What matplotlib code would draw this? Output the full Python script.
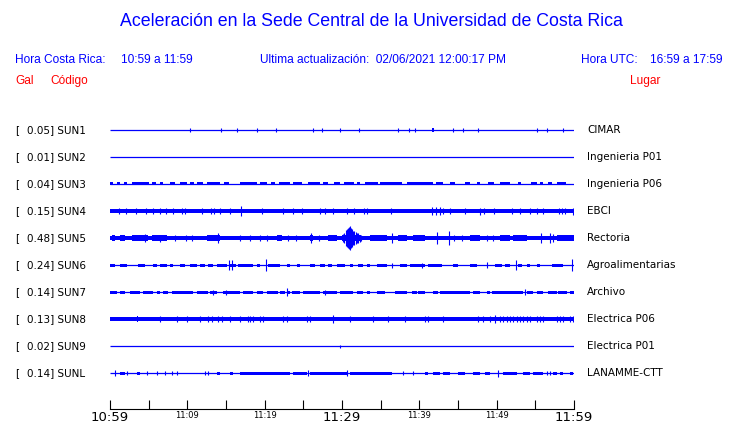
import matplotlib
matplotlib.use("Agg")
import matplotlib.pyplot as plt
import numpy as np

# ======================
# DATOS (minutos desde 10:59, amplitudes en px)
# ======================
codigos = ["SUN1", "SUN2", "SUN3", "SUN4", "SUN5", "SUN6", "SUN7", "SUN8", "SUN9", "SUNL"]
gal = [0.05, 0.01, 0.04, 0.15, 0.48, 0.24, 0.14, 0.13, 0.02, 0.14]
lugares = ["CIMAR", "Ingenieria P01", "Ingenieria P06", "EBCI", "Rectoria",
           "Agroalimentarias", "Archivo", "Electrica P06", "Electrica P01", "LANAMME-CTT"]

tick_labels = ["10:59", "", "11:09", "", "11:19", "", "11:29", "", "11:39", "", "11:49", "", "11:59"]

# ancho base de cada traza
base = [0.5, 0.5, 0.5, 2.2, 2.2, 0.5, 0.5, 2.2, 0.5, 0.5]
# amplitud de los bloques
amp_bloque = [2.0, 1.5, 1.5, 3.0, 3.0, 1.5, 1.5, 3.0, 1.5, 1.5]

bloques = [
    [(41.6, 41.9)],
    [],
    [(0.0, 0.4), (0.9, 1.3), (1.8, 2.2), (2.8, 5.0), (5.4, 6.0), (6.5, 6.9), (7.8, 8.4),
     (9.1, 9.9), (10.3, 10.8), (11.2, 12.0), (12.5, 14.2), (14.7, 15.4), (16.8, 19.0),
     (19.4, 20.3), (20.8, 21.3), (21.8, 23.3), (23.7, 24.8), (25.6, 27.2), (27.5, 28.2),
     (29.0, 29.7), (30.2, 31.5), (31.9, 32.3), (33.0, 33.6), (33.6, 34.7), (34.9, 37.7),
     (38.4, 41.8), (42.2, 43.1), (44.0, 44.6), (45.9, 46.6), (47.4, 47.8), (48.9, 49.6),
     (50.4, 51.7), (52.8, 53.2), (54.5, 55.2), (55.6, 56.0), (56.7, 57.1), (57.8, 59.0)],
    [],
    [(0.2, 0.65), (1.29, 1.94), (2.8, 4.96), (5.39, 7.33), (12.5, 14.22), (21.55, 22.2),
     (25.86, 26.29), (28.23, 29.31), (30.0, 32.5), (33.62, 35.78), (37.28, 38.36),
     (39.22, 40.73), (46.55, 47.84), (50.43, 51.72), (52.15, 53.88), (57.76, 60.0)],
    [(0.0, 0.65), (1.29, 2.16), (3.66, 4.53), (5.6, 6.03), (6.47, 7.33), (7.76, 8.19),
     (9.05, 9.7), (10.34, 11.21), (11.64, 12.28), (12.72, 13.36), (13.79, 15.09),
     (15.43, 16.29), (16.6, 18.53), (18.96, 19.4), (20.47, 21.98), (22.84, 23.27),
     (24.14, 24.57), (25.86, 26.51), (27.15, 27.8), (28.23, 28.66), (29.31, 30.39),
     (31.03, 31.47), (32.11, 32.76), (33.19, 33.62), (34.48, 35.78), (37.5, 38.36),
     (38.79, 40.73), (41.16, 42.89), (44.4, 45.04), (46.55, 47.41), (49.78, 50.65),
     (51.08, 51.72), (52.8, 53.23), (53.88, 54.31), (55.17, 55.6), (57.11, 58.62)],
    [(0.0, 0.86), (1.29, 1.94), (2.59, 3.88), (4.31, 5.6), (6.03, 6.47), (6.9, 7.54),
     (7.97, 10.78), (11.21, 12.72), (12.93, 13.79), (14.65, 16.81), (17.24, 18.53),
     (18.96, 19.83), (20.26, 21.77), (21.98, 22.63), (22.84, 23.27), (23.49, 24.57),
     (25.0, 27.15), (27.5, 29.31), (29.74, 31.47), (31.9, 32.76), (33.19, 33.62),
     (34.48, 35.56), (36.85, 38.36), (39.01, 39.65), (39.87, 40.73), (41.81, 42.46),
     (42.67, 46.55), (46.98, 47.84), (48.71, 49.14), (49.35, 53.45), (53.88, 54.74),
     (55.17, 56.03), (56.68, 57.76), (57.97, 59.05), (59.48, 60.0)],
    [(3.45, 3.66)],
    [],
    [(1.29, 1.94), (3.45, 3.88), (13.79, 14.22), (15.52, 15.95), (16.81, 23.27),
     (23.71, 25.43), (25.86, 30.6), (31.03, 33.62), (33.62, 36.42), (40.73, 41.16),
     (41.81, 42.67), (43.1, 43.97), (45.04, 45.9), (46.98, 47.84), (48.49, 49.14),
     (50.86, 52.59), (53.45, 54.31), (54.74, 56.03), (57.33, 57.76), (58.19, 58.62),
     (59.48, 59.91)],
]

picos = [
    [(10.3, 2), (14.4, 2), (16.4, 2), (19.0, 2), (21.5, 2), (26.2, 2), (27.4, 2), (29.8, 2),
     (32.2, 2), (37.3, 2), (38.7, 2), (39.4, 2), (44.3, 2), (45.6, 2), (47.6, 2),
     (55.2, 2), (56.5, 2), (58.6, 2)],
    [],
    [],
    [(1.1, 3), (2.1, 3), (3.4, 3), (4.7, 3), (5.6, 3), (6.5, 3), (7.2, 3),
     (8.2, 3), (9.3, 3), (9.7, 3), (11.9, 3), (13.0, 3), (13.4, 3), (14.2, 3),
     (15.5, 3), (17.0, 5), (19.6, 3), (22.4, 3), (23.7, 3), (24.8, 3), (27.2, 3),
     (27.8, 3), (28.9, 3), (30.6, 3), (31.5, 3), (32.8, 3), (33.2, 3),
     (36.4, 3), (41.6, 4), (42.2, 4), (42.7, 4), (43.1, 3), (44.0, 3), (45.9, 3),
     (47.8, 3.5), (48.3, 3), (49.6, 3), (52.0, 3), (53.0, 3), (54.3, 3),
     (55.2, 3), (56.0, 3), (58.0, 3), (58.4, 3), (58.8, 3), (59.9, 3.5)],
    [(4.53, 4), (6.5, 3.5), (8.4, 3), (9.8, 3), (10.56, 3), (14.01, 5), (16.81, 3),
     (18.1, 3), (19.4, 3), (20.26, 3), (23.0, 3), (24.0, 3), (25.95, 5), (27.0, 3),
     (30.1, 4), (30.3, 5), (30.5, 8), (30.65, 9), (30.8, 10), (30.9, 11), (31.0, 12),
     (31.1, 10), (31.2, 9), (31.3, 9), (31.45, 7), (31.6, 7), (31.75, 6), (31.9, 5),
     (32.1, 5), (32.3, 3.5), (32.5, 3), (36.42, 5), (42.24, 6), (43.84, 7), (44.5, 3),
     (45.5, 3), (48.7, 3), (49.5, 3), (55.69, 5), (56.9, 5), (57.33, 4)],
    [(15.43, 5), (15.82, 5), (20.17, 6), (36.42, 2.5), (40.3, 2.5), (48.71, 3),
     (52.5, 5), (59.78, 6)],
    [(13.36, 2.5), (15.0, 2.5), (22.93, 4), (27.8, 2.5), (53.66, 3)],
    [(6.47, 3), (8.62, 3), (9.91, 3), (11.64, 3), (12.72, 3), (13.15, 3), (14.01, 3),
     (14.44, 3), (15.52, 3), (16.81, 3), (17.89, 3), (18.1, 3), (18.53, 3), (19.4, 3),
     (19.83, 3), (22.41, 3), (22.84, 3), (25.43, 3), (25.86, 3), (28.88, 4), (31.03, 3),
     (34.05, 3), (35.99, 3), (38.15, 3), (40.73, 3), (41.16, 3), (43.1, 3), (47.63, 3),
     (48.28, 3), (49.14, 3), (49.78, 4), (50.43, 3), (50.86, 3), (51.3, 3), (51.7, 3),
     (52.15, 3), (52.6, 3), (53.0, 3), (53.45, 3), (53.88, 3), (54.31, 3), (55.17, 3),
     (55.6, 3), (56.03, 3), (57.76, 3), (58.19, 3), (58.62, 3), (59.48, 3), (59.91, 3)],
    [(29.74, 1.5)],
    [(0.65, 3), (2.16, 2), (4.74, 2), (6.03, 2), (7.11, 2), (7.97, 2), (8.62, 2),
     (12.28, 2), (12.72, 2), (25.65, 3), (30.6, 3), (37.93, 2), (39.22, 2), (50.22, 3.5),
     (56.47, 2), (56.9, 2)],
]

azul = "#0000ff"
rojo = "#ff0000"

fig = plt.figure(figsize=(7.4, 4.23), dpi=100)
W, H = 740, 423

def fx(x):
    return x / W

def fy(y):
    return 1 - y / H

# ======================
# ENCABEZADO
# ======================
fig.text(0.502, fy(22), "Aceleración en la Sede Central de la Universidad de Costa Rica",
         ha="center", va="center", color=azul, fontsize=12.8, family="Liberation Sans")
hdr = dict(va="center", color=azul, fontsize=8.6, family="Liberation Sans")
fig.text(fx(15), fy(60), "Hora Costa Rica:", **hdr)
fig.text(fx(121), fy(60), "10:59 a 11:59", **hdr)
fig.text(fx(260), fy(60), "Ultima actualización:  02/06/2021 12:00:17 PM", **hdr)
fig.text(fx(581), fy(60), "Hora UTC:", **hdr)
fig.text(fx(650), fy(60), "16:59 a 17:59", **hdr)
red = dict(va="center", color=rojo, fontsize=8.6, family="Liberation Sans")
fig.text(fx(15), fy(81), "Gal", **red)
fig.text(fx(50), fy(81), "Código", **red)
fig.text(fx(630), fy(81), "Lugar", **red)

# ======================
# TRAZAS
# ======================
ax = fig.add_axes([fx(110), fy(409), 464 / W, (409 - 115) / H])
ax.set_xlim(0, 60)
ax.set_ylim(409, 115)

for i, cod in enumerate(codigos):
    y = 130 + 27 * i
    b = base[i]
    if b > 0.6:
        ax.fill_between([0, 60], y - b, y + b, color=azul, lw=0)
    else:
        ax.hlines(y, 0, 60, color=azul, lw=0.9)
    a = amp_bloque[i]
    if bloques[i]:
        ax.broken_barh([(t0, t1 - t0) for t0, t1 in bloques[i]], (y - a, 2 * a),
                       facecolor=azul, edgecolor="none")
    if picos[i]:
        t = np.array([p[0] for p in picos[i]])
        am = np.array([p[1] for p in picos[i]])
        ax.vlines(t, y - am, y + am, color=azul, lw=0.8)

    txt = dict(va="center", color="black", fontsize=7.5, family="DejaVu Sans")
    fig.text(fx(15), fy(y), "[", **txt)
    fig.text(fx(27), fy(y), f"{gal[i]:.2f}] {cod}", **txt)
    fig.text(fx(587), fy(y), lugares[i], **txt)

# ======================
# EJE DE TIEMPO
# ======================
for s in ["top", "left", "right"]:
    ax.spines[s].set_visible(False)
ax.spines["bottom"].set_linewidth(0.8)
ax.set_yticks([])
ax.set_xticks(range(0, 61, 5))
ax.set_xticklabels(tick_labels)
ax.tick_params(axis="x", direction="in", length=6.5, width=0.8, pad=1.5)
for k, lab in enumerate(ax.get_xticklabels()):
    if k % 6 == 0:
        lab.set_fontsize(9.5)
    else:
        lab.set_fontsize(6)

fig.savefig("out.png", dpi=100)
